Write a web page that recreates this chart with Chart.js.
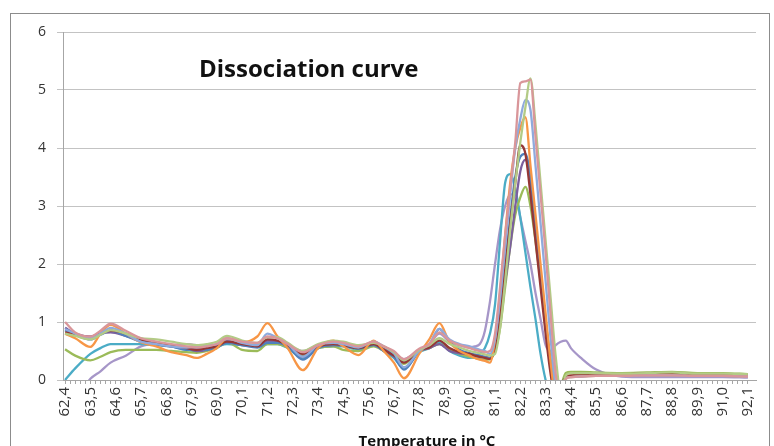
<!DOCTYPE html>
<html>
<head>
<meta charset="utf-8">
<title>Dissociation curve</title>
<script src="https://cdn.jsdelivr.net/npm/chart.js@4.4.1/dist/chart.umd.min.js"></script>
<style>
  html, body { margin: 0; padding: 0; background: #fff; }
  #wrap { position: relative; width: 774px; height: 446px; }
</style>
</head>
<body>
<div id="wrap"><canvas id="myChart"></canvas></div>
<script>
// temperatures (°C) of the points
const temps = [62.4, 62.84, 63.5, 63.94, 64.38, 65.04, 65.7, 66.36, 67.02, 67.68, 68.12, 68.56, 69.0, 69.44, 70.1, 70.76, 71.2, 71.64, 72.08, 72.74, 73.4, 74.06, 74.5, 75.16, 75.82, 76.26, 76.7, 77.14, 77.8, 78.24, 78.68, 79.12, 79.56, 80.0,
  80.22, 80.44, 80.66, 80.88, 81.1, 81.32, 81.54, 81.76, 81.98, 82.2, 82.42, 82.64, 82.86, 83.08, 83.3, 83.52, 83.74, 83.96, 84.18, 84.4,
  84.84, 85.5, 86.6, 87.7, 88.8, 89.9, 91.0, 92.1];

// labelled temperatures on the x axis
const tickLabels = ['62,4', '63,5', '64,6', '65,7', '66,8', '67,9', '69,0', '70,1', '71,2', '72,3', '73,4', '74,5', '75,6', '76,7',
  '77,8', '78,9', '80,0', '81,1', '82,2', '83,3', '84,4', '85,5', '86,6', '87,7', '88,8', '89,9', '91,0', '92,1'];

// one curve per well
const pink = [1.0, 0.82, 0.75, 0.85, 0.97, 0.85, 0.72, 0.66, 0.62, 0.58, 0.56, 0.58, 0.62, 0.72, 0.66, 0.64, 0.75, 0.72, 0.62, 0.48, 0.6, 0.66, 0.64, 0.58, 0.66, 0.58, 0.5, 0.36, 0.54, 0.62, 0.82, 0.68, 0.6, 0.55,
  0.52, 0.5, 0.48, 0.5, 0.8, 1.6, 2.5, 3.3, 4.1, 5.12, 5.15, 5.18, 4.2, 3.2, 2.2, 1.1, 0.1, -0.3, 0.02, 0.05,
  0.06, 0.07, 0.07, 0.08, 0.08, 0.07, 0.07, 0.06];
const lightGreen = [0.8, 0.76, 0.7, 0.78, 0.86, 0.8, 0.72, 0.7, 0.66, 0.62, 0.6, 0.62, 0.66, 0.76, 0.68, 0.64, 0.74, 0.74, 0.64, 0.5, 0.62, 0.68, 0.66, 0.6, 0.64, 0.58, 0.48, 0.34, 0.52, 0.6, 0.72, 0.62, 0.56, 0.5,
  0.48, 0.46, 0.44, 0.42, 0.45, 0.9, 1.7, 2.6, 3.4, 4.1, 4.7, 5.2, 4.4, 3.4, 2.4, 1.4, 0.4, -0.2, 0.08, 0.12,
  0.12, 0.12, 0.11, 0.12, 0.13, 0.11, 0.11, 0.1];
const lightBlue = [0.88, 0.8, 0.72, 0.8, 0.9, 0.8, 0.66, 0.62, 0.58, 0.56, 0.58, 0.6, 0.62, 0.72, 0.64, 0.6, 0.8, 0.72, 0.62, 0.4, 0.6, 0.64, 0.62, 0.56, 0.66, 0.58, 0.46, 0.22, 0.5, 0.62, 0.88, 0.7, 0.62, 0.58,
  0.55, 0.52, 0.5, 0.45, 0.7, 1.4, 2.3, 3.2, 4.0, 4.5, 4.83, 4.66, 3.7, 2.7, 1.7, 0.7, -0.1, -0.2, 0.03, 0.05,
  0.06, 0.07, 0.07, 0.08, 0.08, 0.07, 0.07, 0.06];
const orange = [0.8, 0.72, 0.57, 0.8, 0.95, 0.8, 0.65, 0.58, 0.48, 0.43, 0.38, 0.45, 0.55, 0.72, 0.65, 0.75, 0.98, 0.75, 0.55, 0.17, 0.55, 0.68, 0.58, 0.43, 0.68, 0.5, 0.3, 0.03, 0.45, 0.7, 0.98, 0.65, 0.5, 0.42,
  0.38, 0.35, 0.33, 0.3, 0.7, 1.5, 2.5, 3.4, 4.0, 4.35, 4.53, 3.7, 2.85, 2.0, 1.15, 0.3, -0.3, -0.2, 0.03, 0.05,
  0.06, 0.07, 0.08, 0.08, 0.08, 0.07, 0.07, 0.06];
const darkRed = [0.82, 0.78, 0.72, 0.8, 0.85, 0.8, 0.7, 0.65, 0.6, 0.55, 0.52, 0.55, 0.58, 0.66, 0.62, 0.58, 0.7, 0.68, 0.6, 0.45, 0.58, 0.62, 0.6, 0.55, 0.62, 0.52, 0.42, 0.3, 0.52, 0.56, 0.68, 0.55, 0.48, 0.45,
  0.42, 0.4, 0.38, 0.36, 0.55, 1.1, 1.9, 2.7, 3.4, 4.05, 3.9, 3.2, 2.4, 1.6, 0.8, 0.1, -0.3, -0.1, 0.05, 0.08,
  0.09, 0.1, 0.1, 0.11, 0.11, 0.1, 0.1, 0.09];
const blue = [0.86, 0.78, 0.7, 0.78, 0.85, 0.76, 0.66, 0.62, 0.58, 0.52, 0.55, 0.52, 0.56, 0.64, 0.6, 0.56, 0.64, 0.64, 0.58, 0.35, 0.55, 0.6, 0.6, 0.54, 0.6, 0.5, 0.4, 0.18, 0.5, 0.6, 0.88, 0.66, 0.52, 0.46,
  0.44, 0.42, 0.4, 0.38, 0.6, 1.2, 2.0, 2.8, 3.5, 3.85, 3.9, 3.5, 2.7, 1.85, 1.0, 0.2, -0.3, -0.1, 0.04, 0.06,
  0.07, 0.08, 0.08, 0.09, 0.09, 0.08, 0.08, 0.07];
const purple = [0.9, 0.8, 0.75, 0.8, 0.82, 0.76, 0.68, 0.62, 0.58, 0.55, 0.5, 0.52, 0.6, 0.66, 0.6, 0.58, 0.68, 0.66, 0.58, 0.4, 0.56, 0.6, 0.6, 0.55, 0.64, 0.54, 0.44, 0.32, 0.5, 0.55, 0.62, 0.5, 0.46, 0.44,
  0.42, 0.4, 0.4, 0.38, 0.6, 1.1, 1.7, 2.3, 3.0, 3.6, 3.8, 3.4, 2.6, 1.8, 1.0, 0.2, -0.3, -0.1, 0.04, 0.06,
  0.07, 0.08, 0.08, 0.09, 0.09, 0.08, 0.08, 0.07];
const green = [0.53, 0.42, 0.34, 0.4, 0.48, 0.52, 0.52, 0.52, 0.5, 0.48, 0.47, 0.5, 0.55, 0.65, 0.52, 0.5, 0.62, 0.62, 0.56, 0.42, 0.55, 0.58, 0.52, 0.5, 0.58, 0.5, 0.4, 0.28, 0.5, 0.55, 0.62, 0.52, 0.45, 0.4,
  0.38, 0.36, 0.35, 0.36, 0.5, 0.9, 1.6, 2.3, 2.85, 3.15, 3.33, 3.0, 2.4, 1.7, 1.0, 0.35, -0.2, -0.1, 0.12, 0.14,
  0.14, 0.13, 0.12, 0.13, 0.14, 0.12, 0.12, 0.1];
const teal = [0.0, 0.2, 0.45, 0.55, 0.62, 0.62, 0.62, 0.6, 0.58, 0.52, 0.5, 0.55, 0.58, 0.62, 0.6, 0.58, 0.62, 0.62, 0.55, 0.38, 0.55, 0.58, 0.58, 0.52, 0.6, 0.5, 0.38, 0.2, 0.48, 0.55, 0.65, 0.5, 0.42, 0.38,
  0.4, 0.45, 0.55, 0.8, 1.3, 2.4, 3.4, 3.55, 3.3, 2.8, 2.2, 1.6, 1.05, 0.45, 0.0, -0.3, -0.3, -0.1, 0.05, 0.06,
  0.07, 0.08, 0.08, 0.09, 0.08, 0.08, 0.08, 0.07];
const lilac = [-0.6, -0.35, 0.02, 0.15, 0.3, 0.42, 0.58, 0.62, 0.6, 0.62, 0.6, 0.56, 0.6, 0.68, 0.62, 0.6, 0.66, 0.65, 0.6, 0.5, 0.6, 0.62, 0.62, 0.56, 0.6, 0.54, 0.46, 0.36, 0.52, 0.62, 0.8, 0.66, 0.6, 0.56,
  0.58, 0.62, 0.85, 1.35, 2.0, 2.6, 3.0, 3.2, 3.2, 2.8, 2.4, 2.0, 1.5, 1.05, 0.6, 0.5, 0.6, 0.66, 0.68, 0.55,
  0.38, 0.18, 0.06, 0.05, 0.05, 0.05, 0.05, 0.04];

const series = [
  { data: pink, color: '#D9969A' },
  { data: lightGreen, color: '#B3CB86' },
  { data: lightBlue, color: '#8FAADC' },
  { data: orange, color: '#F79646' },
  { data: darkRed, color: '#953735' },
  { data: blue, color: '#4F81BD' },
  { data: purple, color: '#7B5F9E' },
  { data: green, color: '#9BBB59' },
  { data: teal, color: '#4BACC6' },
  { data: lilac, color: '#A696C8' }
];

// chart frame and the two texts that Excel draws
const decor = {
  id: 'decor',
  beforeDraw(chart) {
    const ctx = chart.ctx;
    ctx.save();
    ctx.fillStyle = '#fff';
    ctx.fillRect(0, 0, chart.width, chart.height);
    ctx.strokeStyle = '#8C8C8C';
    ctx.lineWidth = 1;
    ctx.strokeRect(10.5, 13.5, 759, 460);
    ctx.restore();
  },
  afterDraw(chart) {
    const ctx = chart.ctx, a = chart.chartArea;
    ctx.save();
    ctx.fillStyle = '#111';
    ctx.textBaseline = 'alphabetic';
    ctx.textAlign = 'left';
    ctx.font = 'bold 24px "Open Sans"';
    ctx.fillText('Dissociation curve', a.left + 136, 77);
    ctx.textAlign = 'center';
    ctx.font = 'bold 15px "Open Sans"';
    ctx.fillText('Temperature in °C', 427, 446);
    ctx.restore();
  }
};

const ctx = document.getElementById('myChart').getContext('2d');
const chart = new Chart(ctx, {
  type: 'line',
  data: {
    datasets: series.map(s => ({
      data: temps.map((t, i) => ({ x: t, y: s.data[i] })),
      borderColor: s.color,
      borderWidth: 2.3,
      pointRadius: 0,
      cubicInterpolationMode: 'monotone',
      fill: false
    }))
  },
  options: {
    responsive: true,
    maintainAspectRatio: false,
    animation: false,
    layout: { padding: { left: 0, top: 32, right: 18, bottom: 0 } },
    plugins: { legend: { display: false }, tooltip: { enabled: false } },
    scales: {
      x: {
        type: 'linear',
        min: 62.31,
        max: 92.45,
        afterBuildTicks: (scale) => {
          const t = [];
          for (let k = 0; k <= 135; k++) t.push({ value: 62.4 + 0.22 * k });
          scale.ticks = t;
        },
        afterFit: (scale) => { scale.height = 66; },
        grid: { drawOnChartArea: false, drawTicks: true, tickLength: 4, color: '#A6A6A6' },
        border: { color: '#A6A6A6' },
        ticks: {
          autoSkip: false,
          minRotation: 90,
          maxRotation: 90,
          padding: 3,
          color: '#333',
          font: { family: 'Open Sans', size: 15 },
          callback: (v, i) => (i % 5 === 0 ? tickLabels[i / 5] : '')
        }
      },
      y: {
        min: 0,
        max: 6,
        afterFit: (scale) => { scale.width = 63; },
        grid: { color: '#C3C3C3', tickLength: 6 },
        border: { color: '#A6A6A6' },
        ticks: { stepSize: 1, padding: 11, color: '#333', font: { family: 'Open Sans', size: 14 } }
      }
    }
  },
  plugins: [decor]
});
</script>
</body>
</html>
